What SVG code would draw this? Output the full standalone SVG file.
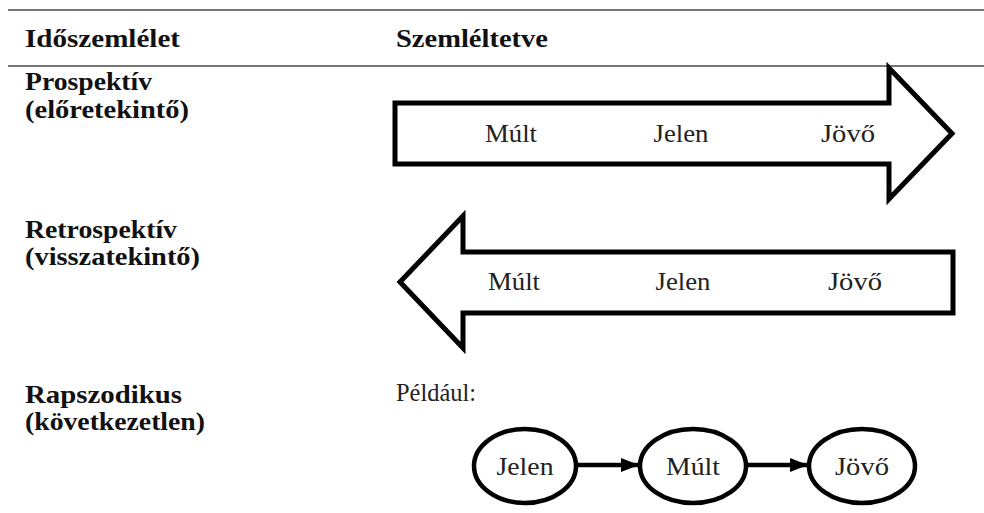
<svg xmlns="http://www.w3.org/2000/svg" width="984" height="513" viewBox="0 0 984 513">
<style>
.rule{stroke:#4a4a4a;stroke-width:1.6;fill:none}
.lbl{font-family:"Liberation Serif","Noto Serif","DejaVu Serif",serif;font-weight:bold;font-size:26px;fill:#111}
.txt{font-family:"Liberation Serif","Noto Serif","DejaVu Serif",serif;font-size:26px;fill:#222}
.shape{fill:#fff;stroke:#000;stroke-width:5;stroke-linejoin:miter}
.node{fill:#fff;stroke:#000;stroke-width:4.5}
.conn{stroke:#000;stroke-width:4.5;fill:none}
</style>
<defs>
<marker id="ah" markerUnits="userSpaceOnUse" markerWidth="18" markerHeight="14" refX="17" refY="7" orient="auto">
<path d="M0,0 L18,7 L0,14 Z" fill="#000"/>
</marker>
</defs>
<rect width="984" height="513" fill="#fff"/>
<line class="rule" x1="8" y1="10" x2="984" y2="10"/>
<line class="rule" x1="8" y1="66" x2="984" y2="66"/>

<g id="headers">
<text class="lbl" x="25" y="47" textLength="155" lengthAdjust="spacingAndGlyphs">Időszemlélet</text>
<text class="lbl" x="396" y="47" textLength="152" lengthAdjust="spacingAndGlyphs">Szemléltetve</text>
</g>

<g id="row-prospektiv">
<text class="lbl" x="25" y="90" textLength="127" lengthAdjust="spacingAndGlyphs">Prospektív</text>
<text class="lbl" x="25" y="118" textLength="164" lengthAdjust="spacingAndGlyphs">(előretekintő)</text>
</g>
<g id="arrow-right">
<polygon class="shape" points="395,103 889,103 889,68 952,133.5 889,199 889,164 395,164"/>
<text class="txt" x="511" y="142" text-anchor="middle" textLength="52" lengthAdjust="spacingAndGlyphs">Múlt</text>
<text class="txt" x="681" y="142" text-anchor="middle" textLength="55" lengthAdjust="spacingAndGlyphs">Jelen</text>
<text class="txt" x="848" y="142" text-anchor="middle" textLength="54" lengthAdjust="spacingAndGlyphs">Jövő</text>
</g>

<g id="row-retrospektiv">
<text class="lbl" x="25" y="238" textLength="152" lengthAdjust="spacingAndGlyphs">Retrospektív</text>
<text class="lbl" x="25" y="265" textLength="175" lengthAdjust="spacingAndGlyphs">(visszatekintő)</text>
</g>
<g id="arrow-left">
<polygon class="shape" points="953,252 463,252 463,216 400,282 463,348 463,313 953,313"/>
<text class="txt" x="514" y="290" text-anchor="middle" textLength="52" lengthAdjust="spacingAndGlyphs">Múlt</text>
<text class="txt" x="683" y="290" text-anchor="middle" textLength="55" lengthAdjust="spacingAndGlyphs">Jelen</text>
<text class="txt" x="855" y="290" text-anchor="middle" textLength="54" lengthAdjust="spacingAndGlyphs">Jövő</text>
</g>

<g id="row-rapszodikus">
<text class="lbl" x="25" y="403" textLength="157" lengthAdjust="spacingAndGlyphs">Rapszodikus</text>
<text class="lbl" x="25" y="430" textLength="180" lengthAdjust="spacingAndGlyphs">(következetlen)</text>
<text class="txt" x="396" y="401" textLength="80" lengthAdjust="spacingAndGlyphs">Például:</text>
</g>

<g id="connectors">
<line class="conn" x1="577" y1="465" x2="638" y2="465" marker-end="url(#ah)"/>
<line class="conn" x1="747" y1="465" x2="807" y2="465" marker-end="url(#ah)"/>
</g>

<g id="node-jelen">
<ellipse class="node" cx="525" cy="466" rx="51" ry="37"/>
<text class="txt" x="525" y="475" text-anchor="middle" textLength="57" lengthAdjust="spacingAndGlyphs">Jelen</text>
</g>
<g id="node-mult">
<ellipse class="node" cx="693" cy="466" rx="53" ry="37"/>
<text class="txt" x="693" y="475" text-anchor="middle" textLength="54" lengthAdjust="spacingAndGlyphs">Múlt</text>
</g>
<g id="node-jovo">
<ellipse class="node" cx="862" cy="466" rx="53" ry="37"/>
<text class="txt" x="862" y="475" text-anchor="middle" textLength="54" lengthAdjust="spacingAndGlyphs">Jövő</text>
</g>
</svg>
